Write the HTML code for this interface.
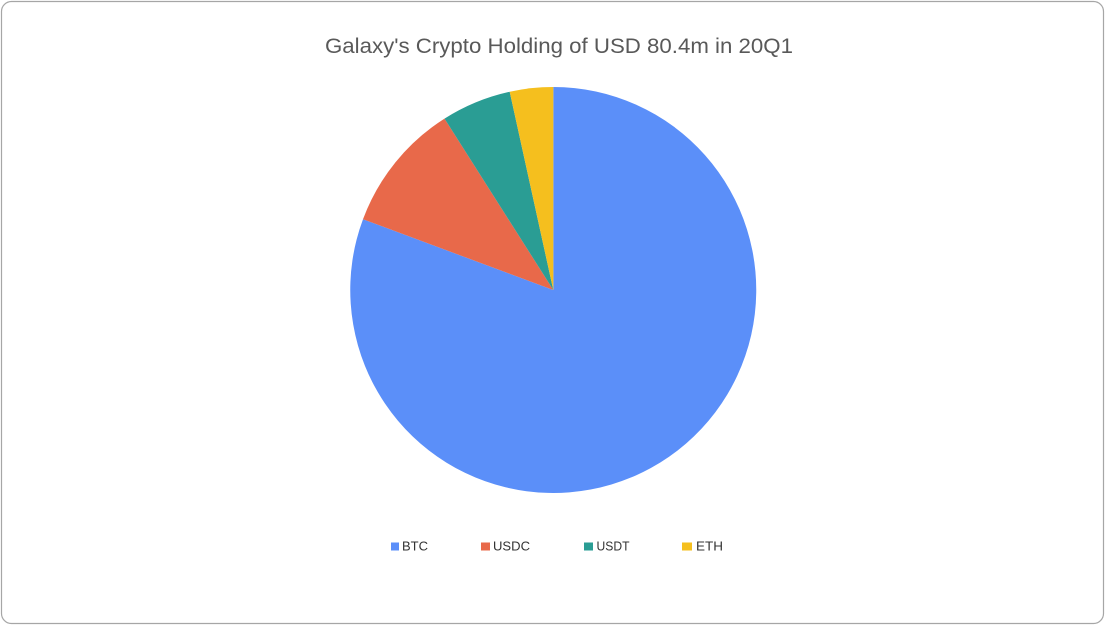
<!DOCTYPE html>
<html>
<head>
<meta charset="utf-8">
<style>
  html, body { margin: 0; padding: 0; background: #ffffff; }
  svg { display: block; }
  text { font-family: "Liberation Sans", "DejaVu Sans", sans-serif; }
</style>
</head>
<body>
<svg width="1105" height="625" viewBox="0 0 1105 625" xmlns="http://www.w3.org/2000/svg">
  <rect x="0" y="0" width="1105" height="625" fill="#ffffff"/>
  <rect x="1.5" y="1.5" width="1102" height="622" rx="10" ry="10" fill="#ffffff" stroke="#a6a6a6" stroke-width="1.2"/>

  <text x="559" y="53" text-anchor="middle" font-size="21" fill="#595959" textLength="468" lengthAdjust="spacingAndGlyphs">Galaxy's Crypto Holding of USD 80.4m in 20Q1</text>

  <!-- Pie -->
  <path d="M553.3,290 L553.3,87 A203,203 0 1 1 363.0,219.2 Z" fill="#5b8ff9"/>
  <path d="M553.3,290 L363.0,219.2 A203,203 0 0 1 444.5,118.6 Z" fill="#e8694a"/>
  <path d="M553.3,290 L444.5,118.6 A203,203 0 0 1 509.7,91.7 Z" fill="#2a9d94"/>
  <path d="M553.3,290 L509.7,91.7 A203,203 0 0 1 553.3,87 Z" fill="#f5bf1e"/>

  <!-- Legend -->
  <rect x="391" y="542.5" width="8" height="8" fill="#5b8ff9"/>
  <text x="402" y="550.5" font-size="12.5" fill="#333333" textLength="26" lengthAdjust="spacingAndGlyphs">BTC</text>

  <rect x="481" y="542.5" width="9" height="8" fill="#e8694a"/>
  <text x="493" y="550.5" font-size="12.5" fill="#333333" textLength="37" lengthAdjust="spacingAndGlyphs">USDC</text>

  <rect x="584" y="542.5" width="9" height="8" fill="#2a9d94"/>
  <text x="596.5" y="550.5" font-size="12.5" fill="#333333" textLength="33" lengthAdjust="spacingAndGlyphs">USDT</text>

  <rect x="682" y="542.5" width="10" height="8" fill="#f5bf1e"/>
  <text x="696" y="550.5" font-size="12.5" fill="#333333" textLength="27" lengthAdjust="spacingAndGlyphs">ETH</text>
</svg>
</body>
</html>
